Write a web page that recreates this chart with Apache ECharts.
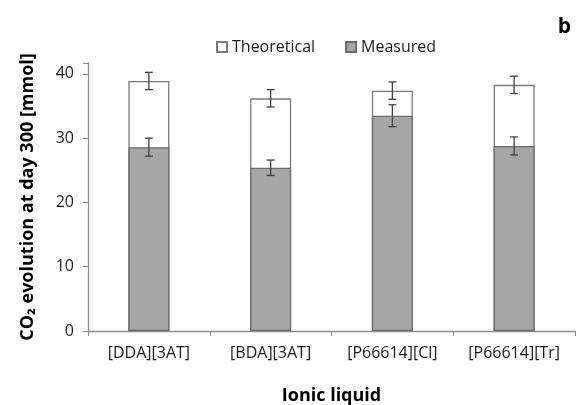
<!DOCTYPE html>
<html>
<head>
<meta charset="utf-8">
<script src="https://cdn.jsdelivr.net/npm/echarts@6/dist/echarts.min.js"></script>
<style>
  html, body { margin: 0; padding: 0; background: #fff; }
  #chart { width: 584px; height: 405px; }
</style>
</head>
<body>
<div id="chart"></div>
<script>
const liquids = ['[DDA][3AT]', '[BDA][3AT]', '[P66614][Cl]', '[P66614][Tr]'];
const theoretical = [38.9, 36.2, 37.4, 38.3];
const theoreticalErr = [1.35, 1.35, 1.35, 1.35];
const measured = [28.6, 25.4, 33.5, 28.8];
const measuredErr = [1.4, 1.2, 1.7, 1.4];
const yTicks = [0, 10, 20, 30, 40];

const chart = echarts.init(document.getElementById('chart'));
const font = '"Open Sans", "Liberation Sans", sans-serif';

// error bar drawn with the library's own coordinate conversion
function errorSeries(vals, errs) {
  return {
    type: 'custom',
    silent: true,
    z: 10,
    data: vals.map((v, i) => [i, v - errs[i], v + errs[i]]),
    renderItem: function (params, api) {
      const lo = api.coord([api.value(0), api.value(1)]);
      const hi = api.coord([api.value(0), api.value(2)]);
      const w = 4;
      const st = { stroke: '#404040', lineWidth: 1.3 };
      return {
        type: 'group',
        children: [
          { type: 'line', shape: { x1: lo[0], y1: lo[1], x2: hi[0], y2: hi[1] }, style: st },
          { type: 'line', shape: { x1: lo[0] - w, y1: lo[1], x2: lo[0] + w, y2: lo[1] }, style: st },
          { type: 'line', shape: { x1: hi[0] - w, y1: hi[1], x2: hi[0] + w, y2: hi[1] }, style: st }
        ]
      };
    }
  };
}

chart.setOption({
  animation: false,
  textStyle: { fontFamily: font },
  title: {
    text: 'b',
    right: 8,
    top: 12,
    textStyle: { fontSize: 21, fontWeight: 'bold', color: '#000', fontFamily: font }
  },
  legend: {
    top: 34,
    left: 211,
    itemGap: 30,
    itemWidth: 10,
    itemHeight: 10,
    icon: 'rect',
    data: ['Theoretical', 'Measured'],
    textStyle: { fontSize: 16, color: '#1a1a1a', fontFamily: font }
  },
  grid: { left: 88, right: 9, top: 63, bottom: 74, outerBoundsMode: 'none' },
  xAxis: {
    type: 'category',
    data: liquids,
    name: 'Ionic liquid',
    nameLocation: 'middle',
    nameGap: 56,
    nameTextStyle: { fontSize: 18, fontWeight: 'bold', color: '#000' },
    axisLine: { lineStyle: { color: '#8a8a8a', width: 1.3 } },
    axisTick: { show: true, length: 5, lineStyle: { color: '#8a8a8a' } },
    axisLabel: { fontSize: 16, color: '#1a1a1a', margin: 14 }
  },
  yAxis: {
    type: 'value',
    min: 0,
    max: 41.7,
    interval: 10,
    name: 'CO\u2082 evolution at day 300 [mmol]',
    nameLocation: 'middle',
    nameGap: 51,
    nameTextStyle: { fontSize: 18, fontWeight: 'bold', color: '#000' },
    axisLine: { show: true, lineStyle: { color: '#8a8a8a', width: 1.3 } },
    axisTick: { show: true, length: 5, lineStyle: { color: '#8a8a8a' } },
    splitLine: { show: false },
    axisLabel: {
      fontSize: 16, color: '#1a1a1a', margin: 14,
      formatter: v => (yTicks.indexOf(v) >= 0 ? String(v) : '')
    }
  },
  series: [
    {
      name: 'Theoretical',
      type: 'bar',
      data: theoretical,
      barWidth: 41,
      barGap: '-100%',
      itemStyle: { color: '#ffffff', borderColor: '#7a7a7a', borderWidth: 1.3 }
    },
    {
      name: 'Measured',
      type: 'bar',
      data: measured,
      barWidth: 41,
      itemStyle: { color: '#a6a6a6', borderColor: '#6a6a6a', borderWidth: 1.3 }
    },
    errorSeries(theoretical, theoreticalErr),
    errorSeries(measured, measuredErr)
  ]
});
</script>
</body>
</html>
